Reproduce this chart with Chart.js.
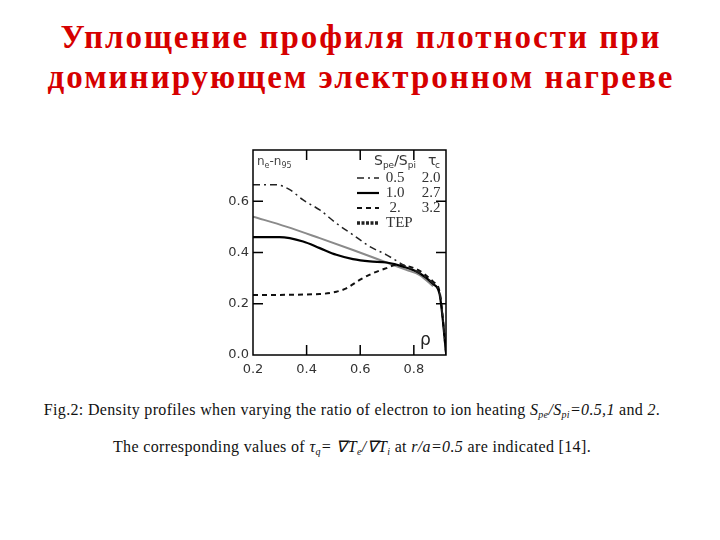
<!DOCTYPE html>
<html>
<head>
<meta charset="utf-8">
<script src="https://cdn.jsdelivr.net/npm/chart.js@4"></script>
<style>
body{margin:0;background:#fff;width:720px;height:540px;position:relative;overflow:hidden}
.t{position:absolute;left:1px;width:720px;text-align:center;font:bold 33px "Liberation Serif",serif;line-height:33px;letter-spacing:2px;color:#d60000;white-space:nowrap}
.cap{position:absolute;left:-8px;width:720px;text-align:center;font:16px "Liberation Serif",serif;line-height:16px;letter-spacing:0.33px;color:#111;white-space:nowrap}
.cap sub{font-size:10px;vertical-align:-3px;line-height:0}
#wrap{position:absolute;left:200px;top:130px;width:260px;height:250px}
</style>
</head>
<body>
<div class="t" style="top:21px">Уплощение профиля плотности при</div>
<div class="t" style="top:61px">доминирующем электронном нагреве</div>

<div id="wrap"><canvas id="densityChart"></canvas></div>

<div class="cap" style="top:402px">Fig.2: Density profiles when varying the ratio of electron to ion heating <i>S<sub>pe</sub>/S<sub>pi</sub>=0.5,1</i> and <i>2</i>.</div>
<div class="cap" style="top:439px;letter-spacing:0.35px">The corresponding values of <i>τ<sub>q</sub>= ∇T<sub>e</sub>/∇T<sub>i</sub></i> at <i>r/a=0.5</i> are indicated [14].</div>

<script>
// S_pe/S_pi = 0.5 (dash-dot)
const rhoHalf = [0.2,0.287,0.337,0.387,0.449,0.511,0.573,0.636,0.698,0.76,0.822,0.872,0.896,0.921]
const nHalf = [0.664,0.664,0.645,0.605,0.566,0.514,0.469,0.423,0.391,0.352,0.319,0.28,0.241,0]

// S_pe/S_pi = 1.0 (solid)
const rhoOne = [0.2,0.299,0.387,0.449,0.511,0.573,0.636,0.698,0.76,0.822,0.872,0.896,0.921]
const nOne = [0.46,0.46,0.443,0.417,0.391,0.374,0.365,0.361,0.345,0.319,0.277,0.238,0]

// S_pe/S_pi = 2 (dashed)
const rhoTwo = [0.2,0.449,0.511,0.548,0.598,0.647,0.698,0.735,0.772,0.822,0.872,0.896,0.921]
const nTwo = [0.234,0.238,0.247,0.26,0.293,0.319,0.339,0.352,0.348,0.328,0.286,0.247,0]

// TEP (grey)
const rhoTep = [0.2,0.324,0.449,0.573,0.698,0.772,0.822,0.872]
const nTep = [0.54,0.501,0.456,0.41,0.361,0.332,0.312,0.268]

const xTicks = [0.2,0.4,0.6,0.8]
const yTicks = [0,0.2,0.4,0.6]

const legendRows = ["0.5","1.0","2.","TEP"]
const legendTau = ["2.0","2.7","3.2",""]

function pts(xs,ys){
return xs.map((x,i)=>({x:x,y:ys[i]}))
}

const framePlugin = {
id:"frame",
afterDatasetsDraw(chart){
const ctx = chart.ctx
const a = chart.chartArea
const sx = chart.scales.x
const sy = chart.scales.y
ctx.save()
ctx.strokeStyle = "#000"
ctx.lineWidth = 1.5
ctx.setLineDash([])
ctx.strokeRect(a.left,a.top,a.right-a.left,a.bottom-a.top)

// inward tick marks
ctx.beginPath()
;[0.4,0.6,0.8].forEach(v=>{
const px = sx.getPixelForValue(v)
ctx.moveTo(px,a.bottom); ctx.lineTo(px,a.bottom-10)
ctx.moveTo(px,a.top); ctx.lineTo(px,a.top+10)
})
;[0.2,0.4,0.6].forEach(v=>{
const py = sy.getPixelForValue(v)
ctx.moveTo(a.left,py); ctx.lineTo(a.left+10,py)
ctx.moveTo(a.right,py); ctx.lineTo(a.right-10,py)
})
ctx.stroke()

// axis name and rho
ctx.fillStyle = "#444"
ctx.textBaseline = "alphabetic"
ctx.textAlign = "left"
let x = a.left+4
const yb = a.top+15
ctx.font = "12px 'DejaVu Sans'"
ctx.fillText("n",x,yb); x += ctx.measureText("n").width
ctx.font = "8px 'DejaVu Sans'"
ctx.fillText("e",x,yb+3); x += ctx.measureText("e").width
ctx.font = "12px 'DejaVu Sans'"
ctx.fillText("-n",x,yb); x += ctx.measureText("-n").width
ctx.font = "8px 'DejaVu Sans'"
ctx.fillText("95",x,yb+3)

ctx.font = "17px 'DejaVu Sans'"
ctx.fillStyle = "#222"
ctx.fillText("ρ",a.left+167,a.bottom-10)

// legend header
ctx.fillStyle = "#333"
x = a.left+121
const hb = a.top+15
ctx.font = "14px 'DejaVu Sans'"
ctx.fillText("S",x,hb); x += ctx.measureText("S").width
ctx.font = "9px 'DejaVu Sans'"
ctx.fillText("pe",x,hb+3); x += ctx.measureText("pe").width
ctx.font = "14px 'DejaVu Sans'"
ctx.fillText("/S",x,hb); x += ctx.measureText("/S").width
ctx.font = "9px 'DejaVu Sans'"
ctx.fillText("pi",x,hb+3)
ctx.font = "14px 'DejaVu Sans'"
ctx.fillText("τ",a.left+175,hb)
ctx.font = "9px 'DejaVu Sans'"
ctx.fillText("c",a.left+182,hb+3)

// legend rows
const styles = [
{dash:[7,4,2,4],w:1.5,c:"#222"},
{dash:[],w:2.2,c:"#000"},
{dash:[5,4],w:2,c:"#111"},
{dash:[3,1.5],w:3.5,c:"#222"}
]
legendRows.forEach((lab,i)=>{
const cy = a.top+28+i*15
const st = styles[i]
ctx.beginPath()
ctx.setLineDash(st.dash)
ctx.lineWidth = st.w
ctx.strokeStyle = st.c
ctx.moveTo(a.left+104,cy); ctx.lineTo(a.left+126,cy)
ctx.stroke()
ctx.setLineDash([])
ctx.fillStyle = "#333"
ctx.font = "15px 'Liberation Serif'"
ctx.textBaseline = "middle"
if(i<3){
ctx.textAlign = "center"
ctx.fillText(lab,a.left+142,cy)
}else{
ctx.textAlign = "left"
ctx.fillText(lab,a.left+133,cy)
}
ctx.textAlign = "center"
if(legendTau[i]) ctx.fillText(legendTau[i],a.left+178,cy)
})
ctx.restore()
}
}

const ctx = document.getElementById("densityChart")

new Chart(ctx,{
type:"line",
data:{
datasets:[
{
label:"0.5",
data:pts(rhoHalf,nHalf),
borderColor:"#222",
borderWidth:1.5,
borderDash:[7,4,2,4]
},
{
label:"1.0",
data:pts(rhoOne,nOne),
borderColor:"#000",
borderWidth:2.2
},
{
label:"2",
data:pts(rhoTwo,nTwo),
borderColor:"#111",
borderWidth:2,
borderDash:[5,4]
},
{
label:"TEP",
data:pts(rhoTep,nTep),
borderColor:"#8a8a8a",
borderWidth:2
}
]
},
options:{
responsive:true,
maintainAspectRatio:false,
animation:false,
devicePixelRatio:1,
elements:{
point:{radius:0},
line:{cubicInterpolationMode:"monotone",fill:false}
},
layout:{padding:{top:20,right:14,left:0,bottom:0}},
plugins:{
legend:{display:false},
tooltip:{enabled:false}
},
scales:{
x:{
type:"linear",
min:0.2,
max:0.92,
afterBuildTicks:s=>{ s.ticks = xTicks.map(v=>({value:v})) },
afterFit:s=>{ s.height = 25 },
grid:{display:false,drawTicks:false},
border:{display:false},
ticks:{
padding:7,
color:"#333",
maxRotation:0,
autoSkip:false,
font:{family:"DejaVu Sans",size:13},
callback:v=>Number(v).toFixed(1)
}
},
y:{
type:"linear",
min:0,
max:0.8,
afterBuildTicks:s=>{ s.ticks = yTicks.map(v=>({value:v})) },
afterFit:s=>{ s.width = 53 },
grid:{display:false,drawTicks:false},
border:{display:false},
ticks:{
padding:4,
color:"#333",
font:{family:"DejaVu Sans",size:13},
callback:v=>Number(v).toFixed(1)
}
}
}
},
plugins:[framePlugin]
})
</script>
</body>
</html>
